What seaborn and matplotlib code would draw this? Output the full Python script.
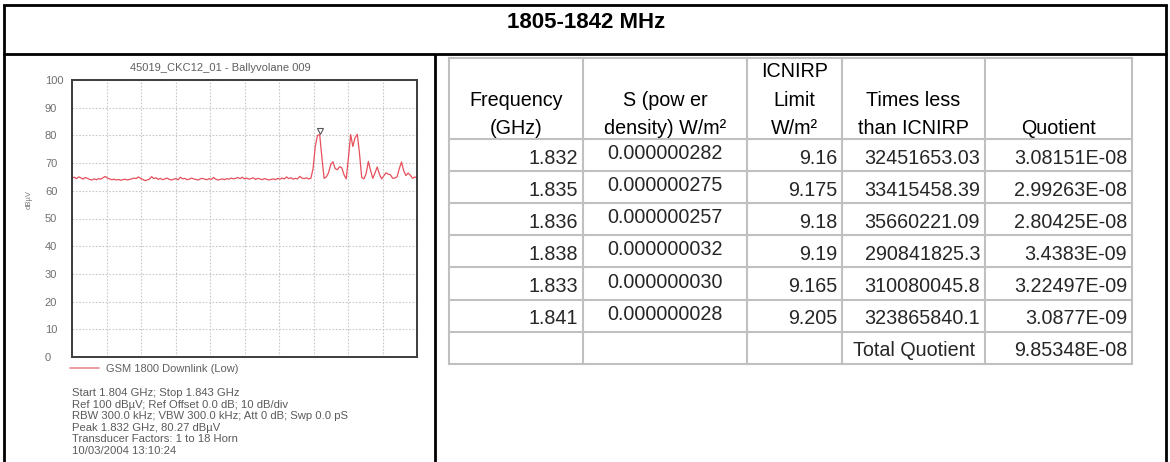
import numpy as np
import pandas as pd
import matplotlib
matplotlib.use("Agg")
import matplotlib.pyplot as plt
from matplotlib.lines import Line2D
import seaborn as sns

# ---------------- data ----------------
TITLE = "1805-1842 MHz"
CHART_TITLE = "45019_CKC12_01 - Ballyvolane 009"
SERIES_NAME = "GSM 1800 Downlink (Low)"
Y_LABEL = "dBµV"
START_GHZ, STOP_GHZ = 1.804, 1.843
PEAK_GHZ, PEAK_DBUV = 1.832, 80.27
Y_TICKS = [0, 10, 20, 30, 40, 50, 60, 70, 80, 90, 100]
INFO_LINES = [
    "Start 1.804 GHz; Stop 1.843 GHz",
    "Ref 100 dBµV; Ref Offset 0.0 dB; 10 dB/div",
    "RBW 300.0 kHz; VBW 300.0 kHz; Att 0 dB; Swp 0.0 pS",
    "Peak 1.832 GHz, 80.27 dBµV",
    "Transducer Factors: 1 to 18 Horn",
    "10/03/2004 13:10:24",
]
# trace levels (dBµV), read from the sweep, 157 sweep points from start to stop
LEVELS = [
    64.6, 64.9, 64.4, 65.0, 64.7, 64.2, 64.8, 64.5, 64.1, 63.9,
    64.3, 64.0, 64.4, 64.2, 64.7, 65.2, 64.6, 64.3, 64.0, 64.2,
    63.9, 64.1, 63.8, 64.0, 64.2, 63.9, 64.1, 64.3, 64.6, 64.4,
    65.0, 64.5, 64.1, 63.7, 63.9, 64.2, 65.1, 64.4, 64.7, 64.1,
    64.5, 64.0, 64.3, 64.6, 64.1, 63.9, 64.2, 64.4, 64.0, 64.9,
    64.3, 64.5, 64.0, 64.2, 64.6, 64.3, 64.1, 63.9, 64.3, 64.5,
    64.2, 64.0, 64.4, 64.1, 64.8, 64.2, 63.9, 64.1, 64.3, 64.0,
    64.4, 64.2, 64.6, 64.3, 64.5, 64.8, 64.4, 64.9, 64.3, 64.6,
    64.2, 64.4, 64.7, 64.1, 64.5, 64.3, 64.0, 64.4, 64.2, 63.9,
    64.1, 64.3, 64.0, 64.5, 64.2, 64.6, 64.3, 65.0, 64.4, 64.7,
    64.2, 64.5, 64.3, 65.2, 64.6, 64.4, 64.7, 64.3, 64.5,
    68.0, 76.0, 80.0, 80.27, 72.0, 64.5, 65.0, 66.5, 69.5, 70.5,
    68.0, 67.6, 68.7, 68.3, 65.8, 64.3, 72.0, 80.3, 76.0, 79.2,
    80.4, 73.5, 64.8, 64.3, 66.2, 70.6, 67.4, 64.5, 66.4, 68.6,
    66.0, 64.3, 65.4, 66.5, 66.0, 65.8, 64.5, 64.6, 65.1, 68.0,
    70.4, 67.2, 65.5, 66.4, 65.6, 64.5, 65.0, 64.6,
]

HEADERS = [
    ["Frequency", "(GHz)"],
    ["S (pow er", "density) W/m²"],
    ["ICNIRP", "Limit", "W/m²"],
    ["Times less", "than ICNIRP"],
    ["Quotient"],
]
FREQ_COL = ["1.832", "1.835", "1.836", "1.838", "1.833", "1.841"]
S_COL = ["0.000000282", "0.000000275", "0.000000257",
         "0.000000032", "0.000000030", "0.000000028"]
LIMIT_COL = ["9.16", "9.175", "9.18", "9.19", "9.165", "9.205"]
TIMES_COL = ["32451653.03", "33415458.39", "35660221.09",
             "290841825.3", "310080045.8", "323865840.1"]
QUOT_COL = ["3.08151E-08", "2.99263E-08", "2.80425E-08",
            "3.4383E-09", "3.22497E-09", "3.0877E-09"]
TOTAL_LABEL = "Total Quotient"
TOTAL_VALUE = "9.85348E-08"

# ---------------- style ----------------
sns.set_style("white")
plt.rcParams["font.family"] = ["Liberation Sans", "DejaVu Sans"]

W, H = 1170, 462
fig = plt.figure(figsize=(W / 100, H / 100), dpi=100, facecolor="white")

def fx(px):
    return px / W

def fy(py):
    return 1 - py / H

# ---------------- spectrum panel ----------------
AX_L, AX_R, AX_T, AX_B = 72, 417, 80, 357
ax = fig.add_axes([fx(AX_L), fy(AX_B), fx(AX_R - AX_L), (AX_B - AX_T) / H])

freqs = np.linspace(START_GHZ, STOP_GHZ, len(LEVELS))
df = pd.DataFrame({"Frequency (GHz)": freqs, "Level": LEVELS})
TRACE = "#e5505c"
sns.lineplot(data=df, x="Frequency (GHz)", y="Level", ax=ax,
             color=TRACE, lw=0.9, legend=False)
ax.plot([PEAK_GHZ], [PEAK_DBUV + 1.4], marker="v", ms=5, mfc="white",
        mec="#555555", mew=0.8, ls="none")

ax.set_xlim(START_GHZ, STOP_GHZ)
ax.set_ylim(0, 100)
ax.set_xticks(np.linspace(START_GHZ, STOP_GHZ, 11))
ax.set_xticklabels([])
ax.set_yticks(Y_TICKS)
ax.set_yticklabels([str(t) for t in Y_TICKS])
ax.tick_params(axis="both", length=0)
ax.tick_params(axis="y", pad=19.5, labelsize=8, labelcolor="#707070")
for lab in ax.get_yticklabels():
    lab.set_horizontalalignment("left")
ax.set_xlabel("")
ax.set_ylabel(Y_LABEL, fontsize=5.5, color="#777777", labelpad=0)
ax.yaxis.set_label_coords(-(AX_L - 33) / (AX_R - AX_L), 0.567)
ax.grid(True, ls=(0, (1.5, 1.5)), color="#c8c8c8", lw=0.8)
for s in ax.spines.values():
    s.set_color("#3c3c3c")
    s.set_linewidth(1.4)

fig.text(fx(220), fy(68), CHART_TITLE, ha="center", va="center",
         fontsize=8, color="#606060")

leg_handle = Line2D([], [], color="#ec8a92", lw=1.2)
ax.legend([leg_handle], [SERIES_NAME], loc="center left",
          bbox_to_anchor=(fx(70), fy(369)), bbox_transform=fig.transFigure,
          frameon=False, fontsize=8, handlelength=2.6, handletextpad=0.6,
          borderpad=0, borderaxespad=0, labelcolor="#606060")

for i, line in enumerate(INFO_LINES):
    fig.text(fx(72), fy(393 + 11.6 * i), line, ha="left", va="center",
             fontsize=8.1, color="#5a5a5a")

# ---------------- frame & table overlay ----------------
tab = fig.add_axes([0, 0, 1, 1], facecolor="none")
tab.set_xlim(0, W)
tab.set_ylim(H, 0)
tab.axis("off")

BLACK_LW = 2.0
SEP_Y = 54
tab.plot([4, 4], [5, H], color="black", lw=BLACK_LW, solid_capstyle="butt")
tab.plot([1166, 1166], [5, H], color="black", lw=BLACK_LW, solid_capstyle="butt")
tab.plot([4, 1166], [5, 5], color="black", lw=BLACK_LW, solid_capstyle="projecting")
tab.plot([4, 1166], [SEP_Y, SEP_Y], color="black", lw=BLACK_LW)
tab.plot([435, 435], [SEP_Y, H], color="black", lw=BLACK_LW, solid_capstyle="butt")

tab.text(586, 23, TITLE, ha="center", va="center", fontsize=16,
         fontweight="bold", color="black")

COLS = [449, 583, 747, 842, 985, 1132]
ROW_TOP = 57.5
HEAD_BOT = 139
ROW_H = 32.1
n_rows = len(FREQ_COL) + 1
row_edges = [ROW_TOP, HEAD_BOT] + [HEAD_BOT + ROW_H * (k + 1) for k in range(n_rows)]
GRID_C = "#c0c0c0"
GRID_LW = 1.5
for y in row_edges:
    tab.plot([COLS[0], COLS[-1]], [y, y], color=GRID_C, lw=GRID_LW,
             solid_capstyle="projecting")
for x in COLS:
    tab.plot([x, x], [ROW_TOP, row_edges[-1]], color=GRID_C, lw=GRID_LW,
             solid_capstyle="projecting")

FS = 14.2
# headers: bottom aligned, baselines
BASELINES = [77, 105.5, 134]
for c, lines in enumerate(HEADERS):
    cx = (COLS[c] + COLS[c + 1]) / 2
    start = len(BASELINES) - len(lines)
    for j, t in enumerate(lines):
        tab.text(cx, BASELINES[start + j], t, ha="center", va="baseline",
                 fontsize=FS, color="black")

PAD = 5
for r in range(len(FREQ_COL)):
    bot = HEAD_BOT + ROW_H * (r + 1)
    base = bot - 7.5
    tab.text(COLS[1] - PAD, base, FREQ_COL[r], ha="right", va="baseline", fontsize=FS)
    tab.text((COLS[1] + COLS[2]) / 2, bot - 12, S_COL[r], ha="center",
             va="baseline", fontsize=FS)
    tab.text(COLS[3] - PAD, base, LIMIT_COL[r], ha="right", va="baseline", fontsize=FS)
    tab.text(COLS[4] - PAD, base, TIMES_COL[r], ha="right", va="baseline", fontsize=FS)
    tab.text(COLS[5] - PAD, base, QUOT_COL[r], ha="right", va="baseline", fontsize=FS)

bot = row_edges[-1]
tab.text((COLS[3] + COLS[4]) / 2 + 1, bot - 7.5, TOTAL_LABEL, ha="center",
         va="baseline", fontsize=FS)
tab.text(COLS[5] - PAD, bot - 7.5, TOTAL_VALUE, ha="right", va="baseline", fontsize=FS)

fig.savefig("out.png", dpi=100, facecolor="white")
